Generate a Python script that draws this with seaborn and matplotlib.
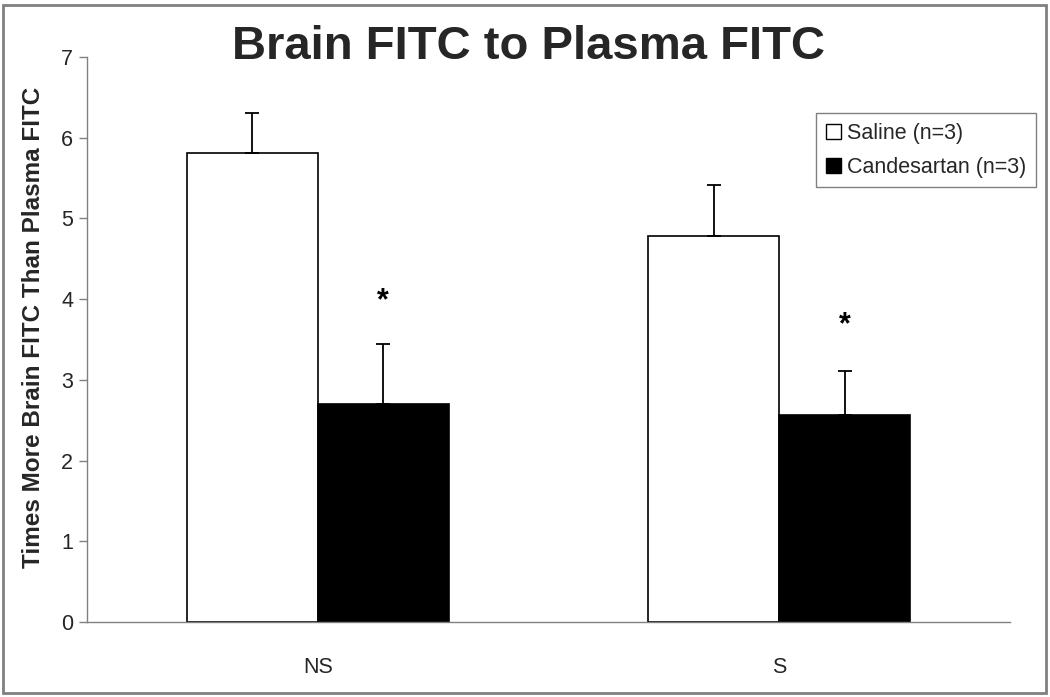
import matplotlib
matplotlib.use("Agg")
import matplotlib.pyplot as plt
import matplotlib.patches as mpatches
import seaborn as sns
import pandas as pd
import numpy as np

# ---- data ----
groups = ["NS", "S"]
treatments = ["Saline (n=3)", "Candesartan (n=3)"]
saline_means = [5.81, 4.78]
saline_err = [0.50, 0.63]
cand_means = [2.70, 2.57]
cand_err = [0.74, 0.54]
asterisk_y = [3.98, 3.68]
yticks = [0, 1, 2, 3, 4, 5, 6, 7]
title = "Brain FITC to Plasma FITC"
ylabel = "Times More Brain FITC Than Plasma FITC"

df = pd.DataFrame({
    "group": groups * 2,
    "treatment": [treatments[0]] * 2 + [treatments[1]] * 2,
    "value": saline_means + cand_means,
})
errs = {treatments[0]: saline_err, treatments[1]: cand_err}

sns.set_style("white")
plt.rcParams["font.family"] = ["Liberation Sans", "DejaVu Sans"]

fig = plt.figure(figsize=(10.5, 6.97), dpi=100)
ax = fig.add_axes([87 / 1050, 75 / 697, 923 / 1050, 565 / 697])

sns.barplot(data=df, x="group", y="value", hue="treatment", order=groups,
            hue_order=treatments, palette=["white", "black"],
            edgecolor="black", linewidth=1.2, width=0.568,
            errorbar=None, legend=False, ax=ax)

# error bars (upper only)
for cont, t in zip(ax.containers, treatments):
    xs = [b.get_x() + b.get_width() / 2 for b in cont]
    hs = [b.get_height() for b in cont]
    e = errs[t]
    ax.errorbar(xs, hs, yerr=[np.zeros(len(e)), e], fmt="none", ecolor="black",
                elinewidth=1.3, capsize=4.8, capthick=1.3, zorder=1)

# asterisks above candesartan bars
cont = ax.containers[1]
for b, ya in zip(cont, asterisk_y):
    ax.text(b.get_x() + b.get_width() / 2, ya, "*", ha="center", va="center",
            fontsize=22, fontweight="bold", color="black")

ax.set_ylim(0, 7)
ax.set_xlim(-0.5, 1.5)
ax.set_yticks(yticks)
ax.set_yticklabels([str(v) for v in yticks], fontsize=15.5)
ax.set_xticks([0, 1])
ax.set_xticklabels(groups, fontsize=15.5)
ax.set_xticks([-0.5, 0.5, 1.5], minor=True)
ax.tick_params(axis="x", which="major", length=0, pad=25)
ax.tick_params(axis="x", which="minor", length=7, width=1, color="#808080", direction="out")
ax.tick_params(axis="y", which="major", length=6, width=1, color="#808080", direction="out", pad=4, left=True)
ax.set_xlabel("")
ax.set_ylabel(ylabel, fontsize=17.5, fontweight="bold")
ax.yaxis.set_label_coords(-0.045, 0.521)

for s in ["top", "right"]:
    ax.spines[s].set_visible(False)
for s in ["left", "bottom"]:
    ax.spines[s].set_color("#808080")
    ax.spines[s].set_linewidth(1.0)

# legend
handles = [mpatches.Patch(facecolor="white", edgecolor="black", linewidth=1.0),
           mpatches.Patch(facecolor="black", edgecolor="black", linewidth=1.0)]
leg = ax.legend(handles, treatments, loc="upper right",
                bbox_to_anchor=(1036 / 1050, (697 - 113) / 697),
                bbox_transform=fig.transFigure, borderaxespad=0,
                fontsize=15.5, handlelength=0.7, handleheight=0.7,
                handletextpad=0.3, labelspacing=0.6, borderpad=0.45,
                fancybox=False, framealpha=1, edgecolor="#808080")
leg.get_frame().set_linewidth(1.0)

fig.text(0.503, (697 - 47) / 697, title, ha="center", va="center",
         fontsize=34, fontweight="bold")

# figure border
fig.patches.append(mpatches.Rectangle((3 / 1050, 4 / 697), 1043 / 1050, 688 / 697,
                                      transform=fig.transFigure, fill=False,
                                      edgecolor="#808080", linewidth=2))

fig.savefig("out.png", dpi=100)
